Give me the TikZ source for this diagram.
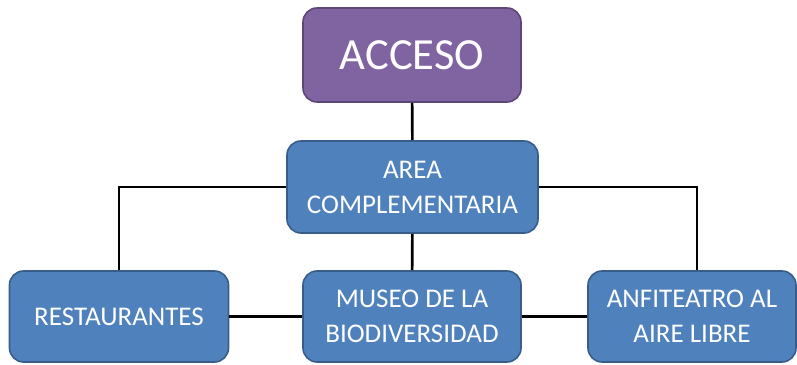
\documentclass[tikz,border=0pt]{standalone}
\usepackage{fontspec}
\setmainfont{Carlito}
\usepackage{xcolor}
\usepackage{tikz}
\usetikzlibrary{positioning}
\definecolor{accfill}{HTML}{8064A2}
\definecolor{accedge}{HTML}{5C4776}
\definecolor{azulfill}{HTML}{4F81BD}
\definecolor{azuledge}{HTML}{385D8A}

\begin{document}
\begin{tikzpicture}[x=1pt,y=1pt,
caja/.style={draw=azuledge,fill=azulfill,line width=1.6pt,rounded corners=14pt,text=white,align=center,inner sep=0pt,font=\fontsize{27}{35}\selectfont},
linea/.style={line width=2.6pt}]
\useasboundingbox(0,0)rectangle(797,364);
\node[caja,fill=accfill,draw=accedge,minimum width=218,minimum height=94,font=\fontsize{44.5}{46}\selectfont](acceso)at(412,309){ACCESO};
\node[caja,minimum width=251,minimum height=92](area)at(412.5,177){AREA\\COMPLEMENTARIA};
\node[caja,minimum width=219,minimum height=91](rest)at(119,47.5){RESTAURANTES};
\node[caja,minimum width=218,minimum height=91](museo)at(412,47.5){MUSEO DE LA\\BIODIVERSIDAD};
\node[caja,minimum width=208,minimum height=91](anfi)at(692,47.5){ANFITEATRO AL\\AIRE LIBRE};
\draw[linea](acceso)--(area);
\draw[linea](area)--(museo);
\draw[linea](area.west)-|(rest.north);
\draw[linea](area.east)-|([xshift=5pt]anfi.north);
\draw[linea](rest)--(museo);
\draw[linea](museo)--(anfi);
\end{tikzpicture}
\end{document}
